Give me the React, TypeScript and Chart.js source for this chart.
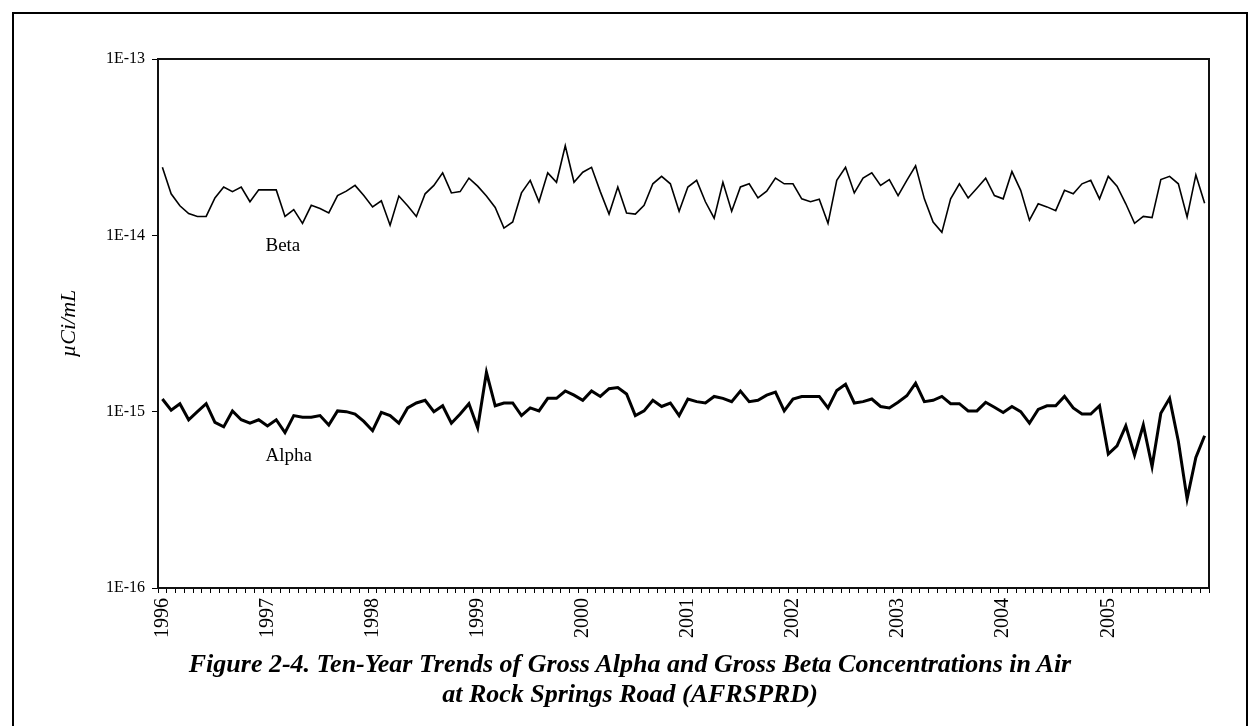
import React, { useEffect, useRef } from 'react';
import { Chart, registerables } from 'chart.js';

Chart.register(...registerables);

const years = ['1996', '1997', '1998', '1999', '2000', '2001', '2002', '2003', '2004', '2005'];
const monthsPerYear = ['01', '02', '03', '04', '05', '06', '07', '08', '09', '10', '11', '12'];

const betaValues = [
  2.43e-14, 1.72e-14, 1.47e-14, 1.33e-14, 1.28e-14, 1.28e-14, 1.63e-14, 1.88e-14, 1.77e-14, 1.88e-14, 1.55e-14, 1.81e-14,
  1.81e-14, 1.81e-14, 1.28e-14, 1.40e-14, 1.17e-14, 1.48e-14, 1.42e-14, 1.34e-14, 1.68e-14, 1.78e-14, 1.92e-14, 1.68e-14,
  1.45e-14, 1.57e-14, 1.14e-14, 1.67e-14, 1.47e-14, 1.28e-14, 1.72e-14, 1.92e-14, 2.26e-14, 1.74e-14, 1.77e-14, 2.11e-14,
  1.90e-14, 1.67e-14, 1.44e-14, 1.10e-14, 1.19e-14, 1.74e-14, 2.05e-14, 1.55e-14, 2.26e-14, 2.00e-14, 3.22e-14, 2.00e-14,
  2.28e-14, 2.43e-14, 1.77e-14, 1.32e-14, 1.88e-14, 1.34e-14, 1.32e-14, 1.48e-14, 1.96e-14, 2.16e-14, 1.96e-14, 1.37e-14,
  1.88e-14, 2.05e-14, 1.55e-14, 1.25e-14, 2.00e-14, 1.37e-14, 1.88e-14, 1.96e-14, 1.63e-14, 1.78e-14, 2.11e-14, 1.96e-14,
  1.96e-14, 1.61e-14, 1.55e-14, 1.60e-14, 1.17e-14, 2.05e-14, 2.43e-14, 1.74e-14, 2.11e-14, 2.26e-14, 1.92e-14, 2.07e-14,
  1.68e-14, 2.05e-14, 2.48e-14, 1.61e-14, 1.19e-14, 1.04e-14, 1.61e-14, 1.96e-14, 1.63e-14, 1.85e-14, 2.11e-14, 1.68e-14,
  1.61e-14, 2.30e-14, 1.80e-14, 1.22e-14, 1.51e-14, 1.45e-14, 1.38e-14, 1.80e-14, 1.72e-14, 1.96e-14, 2.05e-14, 1.61e-14,
  2.16e-14, 1.90e-14, 1.51e-14, 1.17e-14, 1.28e-14, 1.26e-14, 2.07e-14, 2.16e-14, 1.96e-14, 1.27e-14, 2.20e-14, 1.52e-14,
];

const alphaValues = [
  1.18e-15, 1.02e-15, 1.11e-15, 0.90e-15, 1.00e-15, 1.11e-15, 0.87e-15, 0.82e-15, 1.01e-15, 0.90e-15, 0.86e-15, 0.90e-15,
  0.83e-15, 0.90e-15, 0.76e-15, 0.95e-15, 0.93e-15, 0.93e-15, 0.95e-15, 0.84e-15, 1.01e-15, 1.00e-15, 0.97e-15, 0.88e-15,
  0.78e-15, 0.99e-15, 0.95e-15, 0.86e-15, 1.05e-15, 1.12e-15, 1.16e-15, 1.00e-15, 1.08e-15, 0.86e-15, 0.97e-15, 1.11e-15,
  0.81e-15, 1.67e-15, 1.08e-15, 1.12e-15, 1.12e-15, 0.95e-15, 1.05e-15, 1.01e-15, 1.19e-15, 1.19e-15, 1.31e-15, 1.24e-15,
  1.16e-15, 1.31e-15, 1.22e-15, 1.35e-15, 1.37e-15, 1.26e-15, 0.95e-15, 1.01e-15, 1.16e-15, 1.07e-15, 1.12e-15, 0.95e-15,
  1.18e-15, 1.14e-15, 1.12e-15, 1.22e-15, 1.19e-15, 1.14e-15, 1.31e-15, 1.14e-15, 1.16e-15, 1.24e-15, 1.29e-15, 1.01e-15,
  1.18e-15, 1.22e-15, 1.22e-15, 1.22e-15, 1.05e-15, 1.32e-15, 1.43e-15, 1.12e-15, 1.14e-15, 1.18e-15, 1.07e-15, 1.05e-15,
  1.13e-15, 1.23e-15, 1.45e-15, 1.14e-15, 1.16e-15, 1.22e-15, 1.11e-15, 1.11e-15, 1.01e-15, 1.01e-15, 1.13e-15, 1.06e-15,
  0.99e-15, 1.07e-15, 1.00e-15, 0.86e-15, 1.03e-15, 1.08e-15, 1.08e-15, 1.22e-15, 1.05e-15, 0.97e-15, 0.97e-15, 1.08e-15,
  0.575e-15, 0.64e-15, 0.83e-15, 0.566e-15, 0.84e-15, 0.488e-15, 0.98e-15, 1.19e-15, 0.68e-15, 0.32e-15, 0.55e-15, 0.73e-15,
];

const yTickValues = [1e-16, 1e-15, 1e-14, 1e-13];
const yTickLabels = ['1E-16', '1E-15', '1E-14', '1E-13'];

const seriesNames = ['Beta', 'Alpha'];
const seriesLabelIndex = [12, 12];
const seriesLabelValue = [8.7e-15, 5.6e-16];

const yAxisTitle = 'µCi/mL';
const titleLines = [
  'Figure 2-4. Ten-Year Trends of Gross Alpha and Gross Beta Concentrations in Air',
  'at Rock Springs Road (AFRSPRD)',
];

const FONT = '"Liberation Serif", "Times New Roman", serif';

export default function App() {
  const canvasRef = useRef<HTMLCanvasElement | null>(null);

  useEffect(() => {
    const canvas = canvasRef.current;
    if (!canvas) return;
    const categories = years.flatMap((y) => monthsPerYear.map((m) => `${y}-${m}`));

    const framePlugin = {
      id: 'frameAndLabels',
      afterDatasetsDraw(chart: any) {
        const { ctx, chartArea, scales } = chart;
        ctx.save();
        ctx.strokeStyle = '#111';
        ctx.lineWidth = 2;
        ctx.strokeRect(chartArea.left, chartArea.top, chartArea.right - chartArea.left, chartArea.bottom - chartArea.top);
        ctx.fillStyle = '#000';
        ctx.font = `19px ${FONT}`;
        ctx.textAlign = 'left';
        ctx.textBaseline = 'middle';
        seriesNames.forEach((name, i) => {
          const x = scales.x.getPixelForValue(seriesLabelIndex[i]) - 2;
          const y = scales.y.getPixelForValue(seriesLabelValue[i]);
          ctx.fillText(name, x, y);
        });
        ctx.restore();
      },
    };

    const chart = new Chart(canvas, {
      type: 'line',
      data: {
        labels: categories,
        datasets: [
          {
            label: seriesNames[0],
            data: betaValues,
            borderColor: '#000',
            borderWidth: 1.6,
            pointRadius: 0,
            tension: 0,
            fill: false,
          },
          {
            label: seriesNames[1],
            data: alphaValues,
            borderColor: '#000',
            borderWidth: 3,
            pointRadius: 0,
            tension: 0,
            fill: false,
          },
        ],
      },
      options: {
        animation: false,
        responsive: false,
        devicePixelRatio: 1,
        layout: { padding: { left: 0, top: 59, right: 39, bottom: 0 } },
        plugins: {
          legend: { display: false },
          tooltip: { enabled: false },
          title: { display: false },
        },
        scales: {
          x: {
            type: 'category',
            offset: true,
            grid: {
              display: true,
              drawOnChartArea: false,
              drawTicks: true,
              tickLength: 5,
              color: '#000',
              offset: true,
            },
            border: { display: true, color: '#111', width: 2 },
            ticks: {
              autoSkip: false,
              maxRotation: 90,
              minRotation: 90,
              padding: 5,
              color: '#000',
              font: { family: FONT, size: 20 },
              callback: (_v: any, i: number) => (i % 12 === 0 ? years[i / 12] : ''),
            },
            afterFit: (s: any) => {
              s.height = 138;
            },
          },
          y: {
            type: 'logarithmic',
            min: 1e-16,
            max: 1e-13,
            afterBuildTicks: (s: any) => {
              s.ticks = yTickValues.map((v) => ({ value: v }));
            },
            ticks: {
              color: '#000',
              padding: 7,
              font: { family: FONT, size: 16 },
              callback: (_v: any, i: number) => yTickLabels[i],
            },
            grid: {
              display: true,
              drawOnChartArea: false,
              drawTicks: true,
              tickLength: 6,
              color: '#000',
            },
            border: { display: true, color: '#111', width: 2 },
            title: {
              display: true,
              text: yAxisTitle,
              color: '#000',
              font: { family: FONT, size: 22, style: 'italic' },
              padding: { top: 56, bottom: 0 },
            },
            afterFit: (s: any) => {
              s.width = 158;
            },
          },
        },
      },
      plugins: [framePlugin],
    } as any);

    return () => {
      chart.destroy();
    };
  }, []);

  return (
    <div
      style={{
        position: 'fixed',
        left: 0,
        top: 0,
        width: 1248,
        height: 726,
        overflow: 'hidden',
        background: '#fff',
      }}
    >
      <div
        style={{
          position: 'absolute',
          left: 12,
          top: 12,
          width: 1236,
          height: 760,
          border: '2px solid #000',
          boxSizing: 'border-box',
        }}
      />
      <canvas ref={canvasRef} width={1248} height={726} style={{ position: 'absolute', left: 0, top: 0, width: 1248, height: 726 }} />
      <div
        style={{
          position: 'absolute',
          left: 0,
          width: 1260,
          top: 649,
          textAlign: 'center',
          fontFamily: FONT,
          fontWeight: 'bold',
          fontStyle: 'italic',
          fontSize: 26,
          lineHeight: '30px',
          color: '#000',
          whiteSpace: 'nowrap',
        }}
      >
        <div>{titleLines[0]}</div>
        <div>{titleLines[1]}</div>
      </div>
    </div>
  );
}
